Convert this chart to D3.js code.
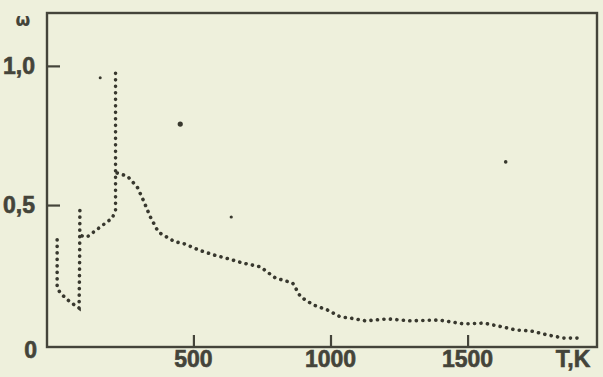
<!DOCTYPE html>
<html><head><meta charset="utf-8">
<script src="https://cdn.jsdelivr.net/npm/d3@7"></script>
<style>
html,body{margin:0;padding:0;background:#eef0dc;}
svg{display:block;}
</style></head>
<body>
<svg id="c" width="603" height="377"></svg>
<script>
// ---- data (T in K, omega) ----
const segmentA = [[3,0.375],[3,0.206],[14,0.184],[50,0.152],[83,0.13],[85,0.30],[86,0.50]];
const segmentB = [[94,0.389],[112,0.385],[160,0.421],[204,0.453],[216,0.482],[216,0.70],[216,0.985]];
const segmentC = [[222,0.615],[259,0.604],[295,0.565],[317,0.518],[343,0.457],[372,0.403],[408,0.382],
  [434,0.367],[459,0.364],[518,0.339],[573,0.321],[627,0.307],[679,0.292],[744,0.278],[799,0.238],
  [862,0.220],[891,0.170],[938,0.141],[989,0.123],[1036,0.098],[1066,0.095],[1128,0.084],[1208,0.091],
  [1292,0.084],[1394,0.087],[1486,0.073],[1559,0.076],[1628,0.062],[1676,0.051],[1730,0.048],
  [1793,0.033],[1851,0.022],[1906,0.022]];
const specks = [[160,0.957,1.5],[452,0.791,2.6],[638,0.457,1.6],[1639,0.655,1.8]];
const xTicks = [500,1000,1500];
const xTickLabels = ["500","1000","1500"];
const yTicks = [0.5,1.0];
const yTickLabels = ["0,5","1,0"];
const xTitle = "T,K";
const yTitle = "ω";

const ink = "#44443a";
const svg = d3.select("#c");
const x = d3.scaleLinear().domain([-34,1972]).range([47,597]);
const y = d3.scaleLinear().domain([-0.01,1.19]).range([347,13]);

// frame
svg.append("rect").attr("x",47).attr("y",13).attr("width",550).attr("height",334)
  .attr("fill","none").attr("stroke",ink).attr("stroke-width",2.4);

// axes ticks (inward)
const gx = svg.append("g").attr("transform","translate(0,347)")
  .call(d3.axisBottom(x).tickValues(xTicks).tickSizeInner(-12).tickSizeOuter(0).tickFormat(""));
const gy = svg.append("g").attr("transform","translate(47,0)")
  .call(d3.axisLeft(y).tickValues(yTicks).tickSizeInner(-13).tickSizeOuter(0).tickFormat(""));
[gx,gy].forEach(g=>{g.select(".domain").remove();g.selectAll("line").attr("stroke",ink).attr("stroke-width",2.2);});

const font = "'Liberation Sans Narrow','Arial Narrow',sans-serif";
function lab(sel){return sel.attr("font-family",font).attr("font-weight","bold").attr("font-size",23)
  .attr("fill",ink).attr("stroke",ink).attr("stroke-width",0.6);}
lab(svg.selectAll(".xl").data(xTicks).enter().append("text")
  .attr("x",d=>x(d)).attr("y",367).attr("text-anchor","middle"))
  .text((d,i)=>xTickLabels[i]);
lab(svg.append("text").attr("x",573).attr("y",367).attr("text-anchor","middle")).text(xTitle);
lab(svg.selectAll(".yl").data(yTicks).enter().append("text")
  .attr("x",35).attr("y",d=>y(d)+8).attr("text-anchor","end"))
  .text((d,i)=>yTickLabels[i]);
lab(svg.append("text").attr("x",37).attr("y",y(0)+14).attr("text-anchor","end")).text("0");
svg.append("text").attr("x",23).attr("y",26).attr("text-anchor","middle")
  .attr("font-family","'DejaVu Sans',sans-serif").attr("font-weight","bold").attr("font-size",17).attr("fill",ink).text(yTitle);

// dotted curves
const line = d3.line().x(d=>x(d[0])).y(d=>y(d[1]));
[segmentA,segmentB,segmentC].forEach(seg=>{
  svg.append("path").attr("d",line(seg)).attr("fill","none").attr("stroke","#38382e")
    .attr("stroke-width",3.6).attr("stroke-linecap","round").attr("stroke-dasharray","0.1,6.4");
});
svg.selectAll(".sp").data(specks).enter().append("circle")
  .attr("cx",d=>x(d[0])).attr("cy",d=>y(d[1])).attr("r",d=>d[2]).attr("fill","#38382e");
</script>
</body></html>
